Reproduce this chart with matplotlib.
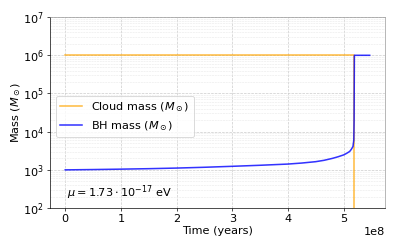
import numpy as np
import matplotlib.pyplot as plt

# time in years
t_bh = [0.0, 0.5e8, 1.0e8, 1.5e8, 2.0e8, 2.5e8, 3.0e8, 3.5e8, 4.0e8, 4.25e8,
        4.5e8, 4.65e8, 4.8e8, 4.9e8, 5.0e8, 5.05e8, 5.11e8, 5.14e8, 5.17e8,
        5.185e8, 5.19e8, 5.195e8, 5.47e8]
bh_mass = [1000, 1020, 1045, 1075, 1115, 1170, 1240, 1320, 1420, 1510,
           1640, 1780, 2000, 2200, 2460, 2680, 3030, 3450, 4100,
           6000, 20000, 1.0e6, 1.0e6]

t_cloud = [0.0, 2.0e8, 4.0e8, 5.195e8, 5.195e8]
cloud_mass = [1.0e6, 1.0e6, 1.0e6, 1.0e6, 1.0]

mu_label = r'$\mu = 1.73 \cdot 10^{-17}$ eV'

plt.rcParams['font.size'] = 13

fig, ax = plt.subplots(figsize=(6.4, 4.0), dpi=62)
fig.subplots_adjust(left=0.126, right=0.97, top=0.931, bottom=0.161)

ax.plot(t_cloud, cloud_mass, color='orange', alpha=0.75, lw=1.8, label=r'Cloud mass ($M_\odot$)')
ax.plot(t_bh, bh_mass, color='blue', alpha=0.8, lw=1.8, label=r'BH mass ($M_\odot$)')

ax.set_yscale('log')
ax.set_ylim(1e2, 1e7)
ax.set_xlabel('Time (years)', labelpad=2)
ax.set_ylabel(r'Mass ($M_\odot$)', labelpad=0)

ax.grid(True, which='major', ls='--', color='#cccccc', lw=0.8)
ax.grid(True, which='minor', ls='--', color='#e6e6e6', lw=0.6)
ax.minorticks_on()
ax.tick_params(which='minor', length=0)
ax.xaxis.set_minor_locator(plt.NullLocator())

for s in ['top', 'right']:
    ax.spines[s].set_color('#999999')

ax.legend(loc='center left', bbox_to_anchor=(0.0, 0.48))
ax.text(0.05, 0.06, mu_label, transform=ax.transAxes)

fig.savefig('out.png', dpi=62)
